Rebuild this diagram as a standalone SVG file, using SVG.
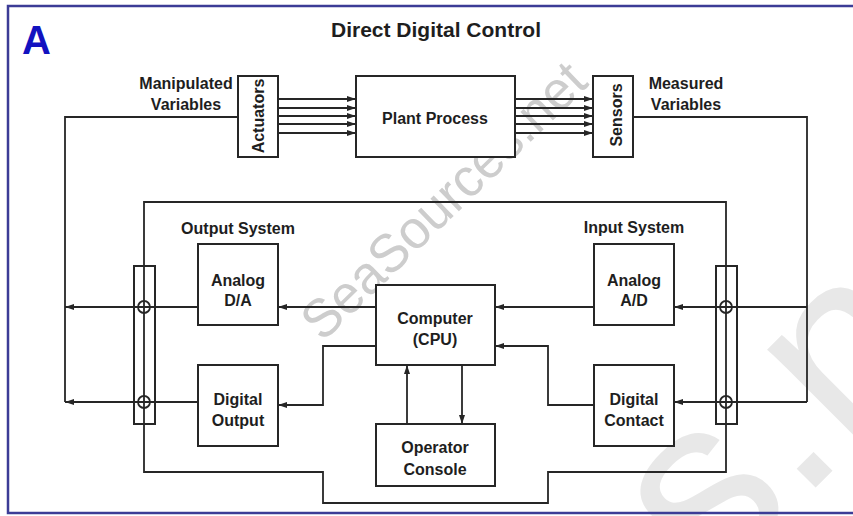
<svg xmlns="http://www.w3.org/2000/svg" width="853" height="516" viewBox="0 0 853 516">
<style>
.box{fill:#fff;stroke:#262626;stroke-width:2}
.strip{fill:none;stroke:#262626;stroke-width:2}
.ln{fill:none;stroke:#262626;stroke-width:1.8}
.t{font-family:"Liberation Sans",Arial,sans-serif;font-weight:bold;font-size:16px;fill:#1e1e1e;text-anchor:middle}
.wm{font-family:"Liberation Sans",Arial,sans-serif;text-anchor:middle}
</style>
<defs>
<marker id="ah" markerUnits="userSpaceOnUse" markerWidth="10" markerHeight="8" refX="9" refY="4" orient="auto">
<path d="M0,1 L9,4 L0,7 Z" fill="#262626"/>
</marker>
</defs>
<rect x="0" y="0" width="853" height="516" fill="#fff"/>
<g id="watermarks">
<text class="wm" transform="translate(443,200) rotate(-44)" x="0" y="19" font-size="54" textLength="372" lengthAdjust="spacingAndGlyphs" fill="#cdcdcd">SeaSources.net</text>
<text class="wm" transform="translate(815,470) rotate(-45)" x="7" y="13" font-size="250" fill="#e8e8e8">s.n</text>
</g>
<rect id="frame" x="8" y="6" width="852" height="507" fill="none" stroke="#3c3c96" stroke-width="2.5"/>
<text id="label-A" x="22" y="54" font-family="Liberation Sans,Arial,sans-serif" font-weight="bold" font-size="40" fill="#1212c0">A</text>
<text id="title" class="t" x="436" y="37" style="font-size:21px">Direct Digital Control</text>

<g id="connectors">
<g marker-end="url(#ah)" class="ln">
<path d="M278,99 H356"/><path d="M278,108 H356"/><path d="M278,116 H356"/><path d="M278,124 H356"/><path d="M278,133 H356"/>
<path d="M515,99 H593"/><path d="M515,108 H593"/><path d="M515,116 H593"/><path d="M515,124 H593"/><path d="M515,133 H593"/>
<path d="M376,307 H278"/>
<path d="M198,307 H65"/>
<path d="M376,346 H323 V405 H278"/>
<path d="M198,402 H65"/>
<path d="M594,307 H495"/>
<path d="M807,307 H674"/>
<path d="M594,405 H548 V346 H495"/>
<path d="M807,402 H674"/>
<path d="M407,424 V365"/>
<path d="M462,365 V424"/>
</g>
<path class="ln" d="M238,117 H65 V402"/>
<path class="ln" d="M633,117 H807 V402"/>
<path class="ln" d="M144,202 H726 V472 H548 V503 H323 V472 H144 Z"/>
</g>

<g id="terminal-left">
<rect class="strip" x="134" y="266" width="21" height="158"/>
<circle class="ln" cx="144" cy="307" r="6"/>
<circle class="ln" cx="144" cy="402" r="6"/>
</g>
<g id="terminal-right">
<rect class="strip" x="716" y="266" width="21" height="158"/>
<circle class="ln" cx="726" cy="307" r="6"/>
<circle class="ln" cx="726" cy="402" r="6"/>
</g>

<g id="manipulated-label">
<text class="t" x="186" y="89">Manipulated</text>
<text class="t" x="186" y="110">Variables</text>
</g>
<g id="measured-label">
<text class="t" x="686" y="89">Measured</text>
<text class="t" x="686" y="110">Variables</text>
</g>
<g id="actuators">
<rect class="box" x="238" y="76" width="40" height="81"/>
<text class="t" transform="translate(264,116) rotate(-90)">Actuators</text>
</g>
<g id="plant-process">
<rect class="box" x="356" y="76" width="159" height="81"/>
<text class="t" x="435" y="124">Plant Process</text>
</g>
<g id="sensors">
<rect class="box" x="593" y="76" width="40" height="81"/>
<text class="t" transform="translate(622,115) rotate(-90)">Sensors</text>
</g>
<text id="output-system-label" class="t" x="238" y="234">Output System</text>
<text id="input-system-label" class="t" x="634" y="233">Input System</text>
<g id="analog-da">
<rect class="box" x="198" y="244" width="80" height="81"/>
<text class="t" x="238" y="286">Analog</text>
<text class="t" x="238" y="306">D/A</text>
</g>
<g id="digital-output">
<rect class="box" x="198" y="365" width="80" height="81"/>
<text class="t" x="238" y="405">Digital</text>
<text class="t" x="238" y="426">Output</text>
</g>
<g id="computer">
<rect class="box" x="376" y="285" width="119" height="80"/>
<text class="t" x="435" y="324">Computer</text>
<text class="t" x="435" y="345">(CPU)</text>
</g>
<g id="operator-console">
<rect class="box" x="376" y="424" width="119" height="62"/>
<text class="t" x="435" y="453">Operator</text>
<text class="t" x="435" y="475">Console</text>
</g>
<g id="analog-ad">
<rect class="box" x="594" y="244" width="80" height="81"/>
<text class="t" x="634" y="286">Analog</text>
<text class="t" x="634" y="306">A/D</text>
</g>
<g id="digital-contact">
<rect class="box" x="594" y="365" width="80" height="81"/>
<text class="t" x="634" y="405">Digital</text>
<text class="t" x="634" y="426">Contact</text>
</g>
</svg>
